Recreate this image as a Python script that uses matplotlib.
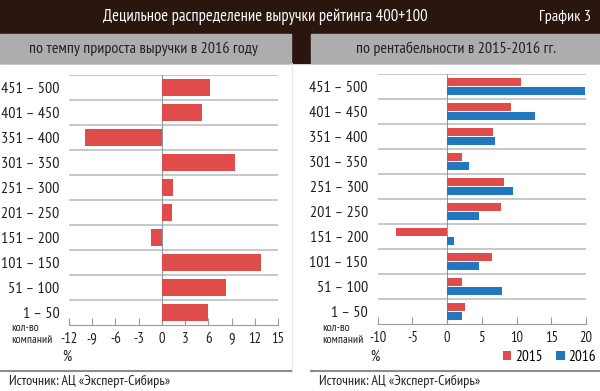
import matplotlib
matplotlib.use("Agg")
import matplotlib.pyplot as plt
from matplotlib import font_manager
from matplotlib.patches import Rectangle
import numpy as np

# pick a narrow font with cyrillic if there is one
names = {f.name for f in font_manager.fontManager.ttflist}
FONT = "DejaVu Sans"
for cand in ["PT Sans Narrow", "Roboto Condensed", "Fira Sans Condensed",
             "Liberation Sans Narrow", "Open Sans Condensed", "IBM Plex Sans Condensed"]:
    if cand in names:
        FONT = cand
        break
plt.rcParams["font.family"] = [FONT, "DejaVu Sans"]

categories = ["451 – 500", "401 – 450", "351 – 400", "301 – 350", "251 – 300",
              "201 – 250", "151 – 200", "101 – 150", "51 – 100", "1 – 50"]
growth_2016 = [6.2, 5.2, -9.9, 9.4, 1.4, 1.35, -1.4, 12.8, 8.3, 6.0]
margin_2015 = [10.7, 9.2, 6.6, 2.1, 8.2, 7.7, -7.4, 6.5, 2.1, 2.6]
margin_2016 = [19.9, 12.7, 6.9, 3.2, 9.5, 4.6, 1.0, 4.6, 7.9, 2.1]
left_ticks = [-12, -9, -6, -3, 0, 3, 6, 9, 12, 15]
right_ticks = [-10, -5, 0, 5, 10, 15, 20]
series_labels = ["2015", "2016"]

title = "Децильное распределение выручки рейтинга 400+100"
left_sub = "по темпу прироста выручки в 2016 году"
right_sub = "по рентабельности в 2015-2016 гг."
source = "Источник: АЦ «Эксперт-Сибирь»"

DARK = "#2a150f"
GRAY = "#adadad"
RED = "#e04b4b"
BLUE = "#1f78c0"
GRID = "#c4c4c4"
TEXT = "#231f20"

fig = plt.figure(figsize=(6, 3.91), dpi=100)

# background decorations in pixel coordinates
bg = fig.add_axes([0, 0, 1, 1])
bg.set_xlim(0, 600)
bg.set_ylim(391, 0)
bg.axis("off")
bg.add_patch(Rectangle((0, 0), 600, 63, color=DARK))
bg.add_patch(Rectangle((0, 34), 291, 29, color=GRAY))
bg.add_patch(Rectangle((311, 34), 289, 29, color=GRAY))
bg.plot([292, 292], [63, 372], color="#e6e6e6", lw=0.8)
bg.plot([0, 291], [371, 371], color="#8c8c8c", lw=1.5)
bg.plot([311, 600], [371, 371], color="#8c8c8c", lw=1.5)
bg.text(265, 17, title, color="white", fontsize=12, ha="center", va="center")
bg.text(591, 17, "График 3", color="white", fontsize=11.5, ha="right", va="center")
bg.text(143, 48.5, left_sub, color=TEXT, fontsize=11.5, ha="center", va="center")
bg.text(456, 48.5, right_sub, color=TEXT, fontsize=11.5, ha="center", va="center")
bg.text(9, 381, source, color=TEXT, fontsize=10.2, ha="left", va="center")
bg.text(319, 381, source, color=TEXT, fontsize=10.2, ha="left", va="center")
for x0 in (11, 322):
    bg.text(x0, 334, "кол-во\nкомпаний", color=TEXT, fontsize=8.5,
            ha="left", va="center", linespacing=1.25)
bg.text(62, 357, "%", color=TEXT, fontsize=10.5, ha="left", va="center")
bg.text(370, 357, "%", color=TEXT, fontsize=10.5, ha="left", va="center")


def style_panel(ax, ticks):
    y = np.arange(len(categories))
    ax.set_ylim(len(categories) - 0.5, -0.5)
    ax.set_yticks(y)
    ax.set_yticklabels(categories, fontsize=11.5, color=TEXT)
    ax.set_yticks(np.arange(-0.5, len(categories) - 0.5, 1), minor=True)
    ax.tick_params(axis="y", which="both", length=0, pad=7)
    ax.grid(which="minor", axis="y", color=GRID, lw=1.3)
    ax.set_axisbelow(True)
    ax.set_xticks(ticks)
    ax.set_xticklabels([str(t) for t in ticks], fontsize=10.5, color=TEXT)
    ax.tick_params(axis="x", direction="in", length=5, color="#9a9a9a", pad=5)
    ax.set_xlim(ticks[0], ticks[-1])
    for side in ("top", "right", "left"):
        ax.spines[side].set_visible(False)
    ax.spines["bottom"].set_color("#9a9a9a")
    ax.axvline(0, color="#8c9aa6", lw=0.8, zorder=1)


ax1 = fig.add_axes([69 / 600, 1 - 325 / 391, 209 / 600, 250 / 391])
style_panel(ax1, left_ticks)
ax1.barh(np.arange(len(categories)), growth_2016, height=0.68, color=RED, zorder=2)

ax2 = fig.add_axes([377.7 / 600, 1 - 324 / 391, 208.3 / 600, 250 / 391])
style_panel(ax2, right_ticks)
yy = np.arange(len(categories))
ax2.barh(yy - 0.18, margin_2015, height=0.34, color=RED, zorder=2, label=series_labels[0])
ax2.barh(yy + 0.18, margin_2016, height=0.34, color=BLUE, zorder=2, label=series_labels[1])
ax2.legend(loc="center right", bbox_to_anchor=(596 / 600, 1 - 357 / 391),
           bbox_transform=fig.transFigure, ncol=2, frameon=False,
           handlelength=0.55, handleheight=0.55, handletextpad=0.25,
           columnspacing=0.9, fontsize=11, borderaxespad=0, borderpad=0)

fig.savefig("out.png", dpi=100)
